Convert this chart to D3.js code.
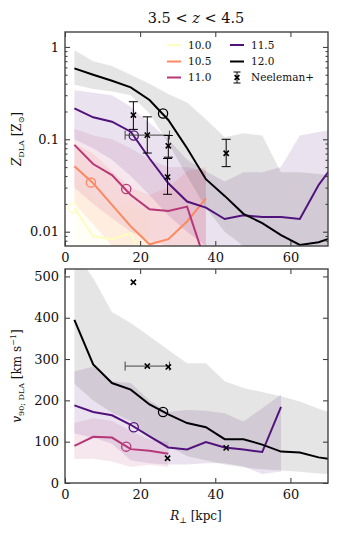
<!DOCTYPE html>
<html>
<head>
<meta charset="utf-8">
<script src="https://cdn.jsdelivr.net/npm/d3@7"></script>
<style>
  body { margin: 0; background: #fff; }
  svg text { font-family: "DejaVu Serif", serif; fill: #111; }
</style>
</head>
<body>
<svg id="chart" width="338" height="533"></svg>
<script>
// radial bins (kpc)
const rBins = [2.5, 7.5, 12.5, 17.5, 22.5, 27.5, 32.5, 37.5, 42.5, 47.5, 52.5, 57.5, 62.5, 67.5, 72.5];
const masses = ['10.0', '10.5', '11.0', '11.5', '12.0'];

// metallicity medians and bands, per halo mass
const z100 = [0.018, 0.0089, 0.0083, 0.0096, 0.003];
const z100Lo = [0.008, 0.005, 0.004, 0.004, 0.003];
const z100Hi = [0.04, 0.025, 0.018, 0.02, 0.015];
const z105 = [0.051, 0.0334, 0.0195, 0.0114, 0.0073, 0.0083, 0.0129, 0.023];
const z105Lo = [0.02, 0.012, 0.007, 0.005, 0.004, 0.004, 0.005, 0.006];
const z105Hi = [0.09, 0.07, 0.045, 0.03, 0.025, 0.03, 0.045, 0.05];
const z110 = [0.087, 0.054, 0.041, 0.025, 0.0175, 0.0168, 0.0187, 0.0045];
const z110Lo = [0.03, 0.02, 0.014, 0.01, 0.008, 0.007, 0.006, 0.003];
const z110Hi = [0.13, 0.11, 0.1, 0.08, 0.06, 0.05, 0.05, 0.045];
const z115 = [0.216, 0.173, 0.155, 0.121, 0.062, 0.0334, 0.0212, 0.0182, 0.0137, 0.0151, 0.0144, 0.0144, 0.0137, 0.032, 0.06];
const z115Lo = [0.1, 0.08, 0.06, 0.04, 0.025, 0.015, 0.01, 0.007, 0.005, 0.005, 0.005, 0.005, 0.005, 0.006, 0.007];
const z115Hi = [0.34, 0.32, 0.30, 0.225, 0.15, 0.10, 0.06, 0.045, 0.035, 0.044, 0.044, 0.05, 0.11, 0.12, 0.13];
const z120 = [0.586, 0.50, 0.43, 0.365, 0.266, 0.162, 0.08, 0.037, 0.0244, 0.0156, 0.0124, 0.0092, 0.0072, 0.0077, 0.009];
const z120Lo = [0.39, 0.35, 0.33, 0.30, 0.19, 0.09, 0.04, 0.018, 0.01, 0.007, 0.005, 0.004, 0.004, 0.004, 0.004];
const z120Hi = [0.92, 0.70, 0.62, 0.50, 0.40, 0.31, 0.25, 0.165, 0.105, 0.116, 0.11, 0.044, 0.044, 0.042, 0.04];

// v90 medians and bands
const v110 = [90, 112, 110, 82, 78, 71];
const v110Lo = [58, 59, 52, 39, 44, 39];
const v110Hi = [145, 157, 150, 125, 105, 100];
const v115 = [188, 172, 164, 141, 113, 86, 81, 99, 86, 81, 75, 184];
const v115Lo = [120, 110, 95, 55, 48, 45, 45, 48, 48, 40, 22, 28];
const v115Hi = [270, 282, 246, 242, 200, 172, 177, 175, 169, 149, 181, 214];
const v120 = [395, 287, 242, 226, 190, 166, 145, 135, 106, 106, 93, 76, 74, 62, 55];
const v120Lo = [240, 200, 170, 150, 110, 90, 65, 55, 45, 38, 33, 30, 27, 23, 20];
const v120Hi = [560, 496, 414, 387, 355, 322, 290, 290, 246, 230, 220, 210, 197, 180, 165];

// virial radius markers
const circR = [2.2, 6.9, 16.3, 18.3, 26.1];
const circZ = [0.018, 0.034, 0.029, 0.11, 0.19];
const circV = [null, null, 88, 135, 172];

// Neeleman+ observations
const neelR = [18.2, 21.9, 27.5, 27.3, 42.9];
const neelRLo = [null, 16.0, null, null, null];
const neelRHi = [null, 27.8, null, null, null];
const neelZ = [0.183, 0.111, 0.085, 0.039, 0.0706];
const neelZLo = [0.128, 0.071, 0.064, 0.0254, 0.0506];
const neelZHi = [0.255, 0.175, 0.11, 0.062, 0.100];
const neelV = [486, 283, 281, 60, 85];

const colors = masses.map((m, i) => d3.interpolateMagma(1 - i * 0.25));
const bandAlpha = [0.12, 0.15, 0.12, 0.12, 0.1];

const svg = d3.select('#chart');
const L = 65, R = 328;
const x = d3.scaleLinear().domain([0, 70]).range([L, R]);
const yTop = d3.scaleLog().domain([0.007, 1.45]).range([246, 32]);
const yBot = d3.scaleLinear().domain([0, 518]).range([483, 269]);

function series(med, lo, hi) {
  return med.map((m, i) => ({ r: rBins[i], m: m, lo: lo[i], hi: hi[i] }));
}
const topSeries = [series(z100, z100Lo, z100Hi), series(z105, z105Lo, z105Hi),
  series(z110, z110Lo, z110Hi), series(z115, z115Lo, z115Hi), series(z120, z120Lo, z120Hi)];
const botSeries = [null, null, series(v110, v110Lo, v110Hi),
  series(v115, v115Lo, v115Hi), series(v120, v120Lo, v120Hi)];

function xMark(g, cx, cy, s) {
  g.append('path')
    .attr('d', `M${cx - s},${cy - s}L${cx + s},${cy + s}M${cx - s},${cy + s}L${cx + s},${cy - s}`)
    .attr('stroke', '#000').attr('stroke-width', 1.6).attr('fill', 'none');
}

function drawPanel(id, y, sers, circY, neelY, yTicks, yMinor, fmt) {
  const y0 = y.range()[0], y1 = y.range()[1];
  svg.append('clipPath').attr('id', id)
    .append('rect').attr('x', L).attr('y', y1).attr('width', R - L).attr('height', y0 - y1);
  const g = svg.append('g').attr('clip-path', `url(#${id})`);

  const area = d3.area().x(d => x(d.r)).y0(d => y(d.lo)).y1(d => y(d.hi));
  const line = d3.line().x(d => x(d.r)).y(d => y(d.m));

  sers.forEach((s, i) => {
    if (!s) return;
    g.append('path').attr('d', area(s))
      .attr('fill', colors[i]).attr('fill-opacity', bandAlpha[i]);
  });
  sers.forEach((s, i) => {
    if (!s) return;
    g.append('path').attr('d', line(s))
      .attr('fill', 'none').attr('stroke', colors[i]).attr('stroke-width', 2);
  });
  circY.forEach((v, i) => {
    if (v == null || !sers[i]) return;
    g.append('circle').attr('cx', x(circR[i])).attr('cy', y(v)).attr('r', 4.6)
      .attr('fill', 'none').attr('stroke', colors[i]).attr('stroke-width', 1.3);
  });

  // Neeleman+ points
  neelR.forEach((r, i) => {
    const cx = x(r), cy = y(neelY.v[i]);
    if (neelY.lo) {
      const a = y(neelY.lo[i]), b = y(neelY.hi[i]);
      g.append('path').attr('d', `M${cx},${a}V${b}M${cx - 4.5},${a}H${cx + 4.5}M${cx - 4.5},${b}H${cx + 4.5}`)
        .attr('stroke', '#000').attr('stroke-width', 1).attr('fill', 'none');
    }
    if (neelRLo[i] != null) {
      const a = x(neelRLo[i]), b = x(neelRHi[i]);
      g.append('path').attr('d', `M${a},${cy}H${b}M${a},${cy - 4.5}V${cy + 4.5}M${b},${cy - 4.5}V${cy + 4.5}`)
        .attr('stroke', '#444').attr('stroke-width', 1).attr('fill', 'none');
    }
    xMark(g, cx, cy, 2.6);
  });

  // axes, ticks inward on all sides
  const xt = [0, 20, 40, 60];
  const ax = svg.append('g');
  ax.append('g').attr('transform', `translate(0,${y0})`)
    .call(d3.axisBottom(x).tickValues(xt).tickSize(-5).tickPadding(7).tickFormat(d3.format('d')));
  ax.append('g').attr('transform', `translate(0,${y1})`)
    .call(d3.axisTop(x).tickValues(xt).tickSize(-5).tickFormat(''));
  ax.append('g').attr('transform', `translate(${L},0)`)
    .call(d3.axisLeft(y).tickValues(yTicks).tickSize(-5).tickPadding(6).tickFormat(fmt));
  ax.append('g').attr('transform', `translate(${R},0)`)
    .call(d3.axisRight(y).tickValues(yTicks).tickSize(-5).tickFormat(''));
  if (yMinor) {
    ax.append('g').attr('transform', `translate(${L},0)`)
      .call(d3.axisLeft(y).tickValues(yMinor).tickSize(-2.5).tickFormat(''));
    ax.append('g').attr('transform', `translate(${R},0)`)
      .call(d3.axisRight(y).tickValues(yMinor).tickSize(-2.5).tickFormat(''));
  }
  ax.selectAll('.domain').remove();
  ax.selectAll('.tick line').attr('stroke', '#333').attr('stroke-width', 1);
  ax.selectAll('.tick text').attr('font-size', '13px').attr('fill', '#111')
    .attr('font-family', '"DejaVu Serif", serif');
  svg.append('rect').attr('x', L).attr('y', y1).attr('width', R - L).attr('height', y0 - y1)
    .attr('fill', 'none').attr('stroke', '#444').attr('stroke-width', 1.4);
}

const logMinor = [];
[0.001, 0.01, 0.1, 1].forEach(d => {
  for (let k = 2; k <= 9; k++) {
    const v = d * k;
    if (v > 0.007 && v < 1.45) logMinor.push(v);
  }
});

drawPanel('clipTop', yTop, topSeries, circZ,
  { v: neelZ, lo: neelZLo, hi: neelZHi },
  [0.01, 0.1, 1], logMinor, d => (d >= 1 ? '1' : String(d)));
drawPanel('clipBot', yBot, botSeries, circV,
  { v: neelV },
  [0, 100, 200, 300, 400, 500], null, d3.format('d'));

// title
const title = svg.append('text').attr('x', 196).attr('y', 23)
  .attr('text-anchor', 'middle').attr('font-size', '14.5px');
title.append('tspan').text('3.5 < ');
title.append('tspan').attr('font-style', 'italic').text('z');
title.append('tspan').text(' < 4.5');

// y label top
const yl1 = svg.append('text').attr('transform', 'translate(21,139) rotate(-90)')
  .attr('text-anchor', 'middle').attr('font-size', '12px');
yl1.append('tspan').attr('font-style', 'italic').text('Z');
yl1.append('tspan').attr('font-size', '8px').attr('dy', 3).text('DLA');
yl1.append('tspan').attr('dy', -3).text(' [Z');
yl1.append('tspan').attr('font-size', '8px').attr('dy', 3).text('⊙');
yl1.append('tspan').attr('dy', -3).text(']');

// y label bottom
const yl2 = svg.append('text').attr('transform', 'translate(21,376) rotate(-90)')
  .attr('text-anchor', 'middle').attr('font-size', '12px');
yl2.append('tspan').attr('font-style', 'italic').text('v');
yl2.append('tspan').attr('font-size', '8px').attr('dy', 3).text('90; DLA');
yl2.append('tspan').attr('dy', -3).text(' [km s');
yl2.append('tspan').attr('font-size', '8px').attr('dy', -5).text('−1');
yl2.append('tspan').attr('dy', 5).text(']');

// x label
const xl = svg.append('text').attr('x', 196).attr('y', 520)
  .attr('text-anchor', 'middle').attr('font-size', '12px');
xl.append('tspan').attr('font-style', 'italic').text('R');
xl.append('tspan').attr('font-size', '8px').attr('dy', 3).text('⊥');
xl.append('tspan').attr('dy', -3).text(' [kpc]');

// legend
const leg = svg.append('g');
const legRows = [45, 61.5, 77.5];
masses.forEach((m, i) => {
  const col = i < 3 ? 0 : 1, row = i < 3 ? i : i - 3;
  const lx = col === 0 ? 167 : 230, ly = legRows[row];
  leg.append('line').attr('x1', lx).attr('x2', lx + 14).attr('y1', ly).attr('y2', ly)
    .attr('stroke', colors[i]).attr('stroke-width', 2);
  leg.append('text').attr('x', lx + 21).attr('y', ly + 3.8).attr('font-size', '10.5px').text(m);
});
const nx = 237, ny = legRows[2];
leg.append('path').attr('d', `M${nx},${ny - 5.5}V${ny + 5.5}M${nx - 3.5},${ny - 5.5}H${nx + 3.5}M${nx - 3.5},${ny + 5.5}H${nx + 3.5}`)
  .attr('stroke', '#000').attr('stroke-width', 1).attr('fill', 'none');
xMark(leg, nx, ny, 2.4);
leg.append('text').attr('x', 251).attr('y', ny + 3.8).attr('font-size', '10.5px').text('Neeleman+');
</script>
</body>
</html>
